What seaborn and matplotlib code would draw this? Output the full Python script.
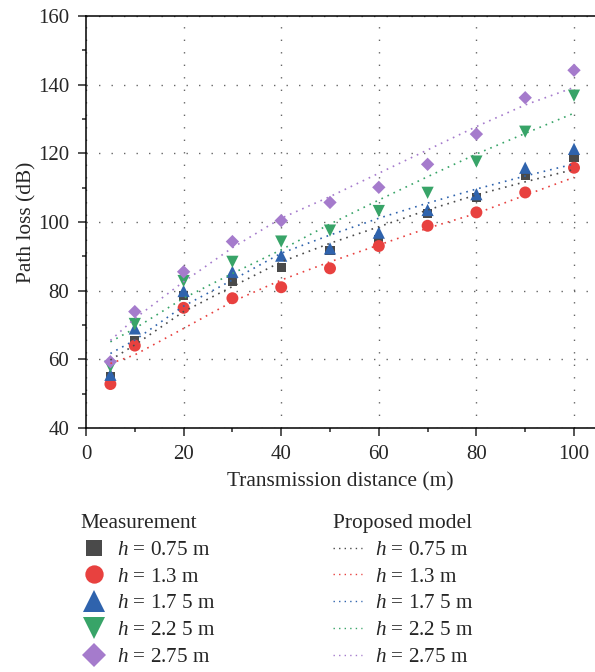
import numpy as np
import pandas as pd
import seaborn as sns
import matplotlib.pyplot as plt
from matplotlib.lines import Line2D
from matplotlib.ticker import MultipleLocator

sns.set_theme(style="ticks")
plt.rcParams["font.family"] = ["Liberation Serif", "DejaVu Serif"]
plt.rcParams["mathtext.fontset"] = "custom"
plt.rcParams["mathtext.rm"] = "Liberation Serif"
plt.rcParams["mathtext.it"] = "Liberation Serif:italic"

distance = [5, 10, 20, 30, 40, 50, 60, 70, 80, 90, 100]
labels = ["$h$ = 0.75 m", "$h$ = 1.3 m", "$h$ = 1.7 5 m", "$h$ = 2.2 5 m", "$h$ = 2.75 m"]

# measured path loss (dB)
meas_075 = [55.0, 65.6, 78.7, 82.8, 86.7, 91.8, 94.8, 102.5, 107.2, 113.5, 118.7]
meas_130 = [52.8, 64.0, 75.0, 77.8, 81.0, 86.5, 93.0, 98.9, 102.8, 108.6, 115.8]
meas_175 = [55.5, 69.0, 79.9, 85.5, 90.2, 92.3, 96.9, 103.5, 108.1, 115.8, 121.3]
meas_225 = [57.9, 70.3, 82.8, 88.4, 94.3, 97.5, 103.2, 108.5, 117.6, 126.3, 136.8]
meas_275 = [59.3, 73.9, 85.5, 94.3, 100.4, 105.7, 110.1, 116.8, 125.6, 136.2, 144.2]

# proposed model (dB)
model_075 = [59.8, 64.2, 73.9, 81.2, 88.4, 93.8, 98.6, 103.5, 107.9, 111.7, 115.3]
model_130 = [58.8, 61.3, 69.0, 76.8, 83.1, 88.4, 93.3, 98.2, 102.5, 107.8, 113.0]
model_175 = [61.7, 65.6, 75.5, 83.1, 90.9, 96.2, 101.1, 105.5, 109.6, 113.4, 116.9]
model_225 = [65.1, 69.0, 77.8, 85.0, 91.9, 99.4, 106.4, 113.2, 119.8, 125.8, 131.7]
model_275 = [65.5, 71.9, 82.6, 92.5, 101.1, 107.4, 114.2, 121.0, 127.8, 134.1, 139.2]

colors = ["#4a4a4a", "#e8413f", "#2f63ad", "#38a468", "#a57bcc"]
markers = ["s", "o", "^", "v", "D"]
msizes = [6.6, 8.6, 8.8, 8.8, 6.8]
leg_msizes = [11.3, 13.2, 15.5, 15.5, 12.7]

measured = [meas_075, meas_130, meas_175, meas_225, meas_275]
models = [model_075, model_130, model_175, model_225, model_275]

fig = plt.figure(figsize=(5.95, 6.72), dpi=100)
ax = fig.add_axes([86/595, 1 - 428/672, 1 - 86/595, 412/672])

for i in range(5):
    df = pd.DataFrame({"d": distance, "pl": measured[i]})
    sns.scatterplot(data=df, x="d", y="pl", marker=markers[i], s=msizes[i]**2,
                    color=colors[i], edgecolor="none", linewidth=0, ax=ax, zorder=3)

for i in range(5):
    df = pd.DataFrame({"d": distance, "pl": models[i]})
    sns.lineplot(data=df, x="d", y="pl", color=colors[i], linewidth=1.2,
                 linestyle=(0, (1, 3)), ax=ax, zorder=4)

ax.set_xlim(0, 104.3)
ax.set_ylim(40, 160)
ax.xaxis.set_major_locator(MultipleLocator(20))
ax.xaxis.set_minor_locator(MultipleLocator(10))
ax.yaxis.set_major_locator(MultipleLocator(20))
ax.yaxis.set_minor_locator(MultipleLocator(10))
ax.grid(True, which="major", color="#666666", linewidth=1.0, linestyle=(0, (1, 8)))
ax.set_axisbelow(True)

for side in ["left", "bottom", "top"]:
    ax.spines[side].set_linewidth(1.1)
    ax.spines[side].set_color("black")
ax.spines["right"].set_visible(False)
ax.tick_params(which="major", direction="out", length=6, width=1.1, labelsize=15, pad=6)
ax.tick_params(which="minor", direction="out", length=3, width=1.1)
ax.tick_params(top=False, right=False, which="both")

ax.set_xlabel("Transmission distance (m)", fontsize=15.4, labelpad=6)
ax.set_ylabel("Path loss (dB)", fontsize=15.4, labelpad=1.5)

meas_handles = [Line2D([], [], marker=markers[i], color=colors[i], linestyle="none",
                       markersize=leg_msizes[i], markeredgewidth=0) for i in range(5)]
model_handles = [Line2D([], [], color=colors[i], linewidth=1.0, linestyle=(0, (1, 3)))
                 for i in range(5)]

leg1 = fig.legend(meas_handles, labels, title="Measurement", loc="upper left",
                  bbox_to_anchor=(76/595, 1 - 510/672), frameon=False, fontsize=15.2,
                  title_fontsize=15.4, alignment="left", borderpad=0.2, borderaxespad=0,
                  handlelength=1.3, handletextpad=0.42, labelspacing=0.33)
leg2 = fig.legend(model_handles, labels, title="Proposed model", loc="upper left",
                  bbox_to_anchor=(329/595, 1 - 510/672), frameon=False, fontsize=15.2,
                  title_fontsize=15.4, alignment="left", borderpad=0.2, borderaxespad=0,
                  handlelength=1.37, handletextpad=0.6, labelspacing=0.33)

fig.savefig("out.png", dpi=100)
